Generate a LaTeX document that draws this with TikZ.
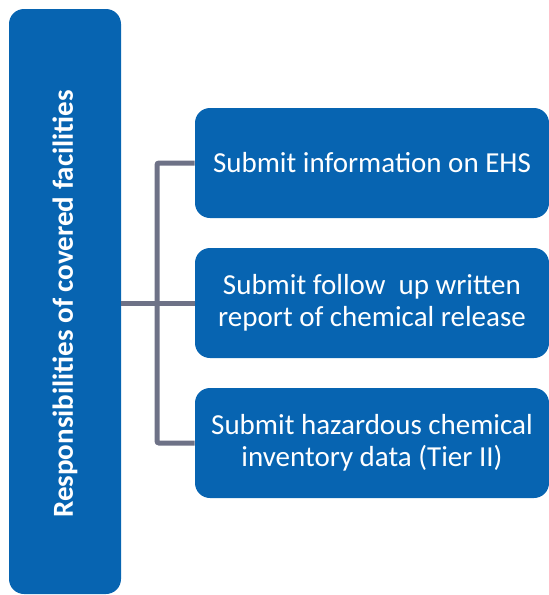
\documentclass[tikz,border=0pt]{standalone}
\usepackage{fontspec}
\setmainfont{Carlito}
\usetikzlibrary{positioning}
\definecolor{dutyblue}{RGB}{7,100,177}
\definecolor{linkgrey}{RGB}{110,114,135}
\tikzset{
	every path/.style={thick},
	align=center,
	duty/.style={
		rectangle,
		fill=dutyblue,
		text=white,
		rounded corners=15pt,
		font=\fontsize{29}{32}\selectfont,
		minimum width=354pt,
		minimum height=110pt,
		inner sep=0pt,
	},
	mainduty/.style={
		rectangle,
		fill=dutyblue,
		text=white,
		rounded corners=15pt,
		minimum width=112pt,
		minimum height=585pt,
		inner sep=0pt,
	},
	link/.style={
		draw=linkgrey,
		line width=5pt,
		rounded corners=2pt,
	},
}

\begin{document}
\begin{tikzpicture}[x=1pt,y=-1pt]
\useasboundingbox (0,0) rectangle (549,595);
% left column
\node [mainduty] (resp) at (65,301.5) {};
\node [rotate=90, text=white, font=\fontsize{29}{32}\selectfont\bfseries]
	(resplabel) at (65,304) {Responsibilities of covered facilities};
% right column
\node [duty] (info) at (372,163) {Submit information on EHS};
\node [duty] (report) at (372,303) {Submit follow\ \ up written\\report of chemical release};
\node [duty] (tier) at (372,443) {Submit hazardous chemical\\inventory data (Tier II)};
% connectors
\coordinate (spine) at (157,303);
\draw [link] (info.west) -| (spine) |- (tier.west);
\draw [link] (resp.east |- report) -- (report.west);
\end{tikzpicture}
\end{document}
